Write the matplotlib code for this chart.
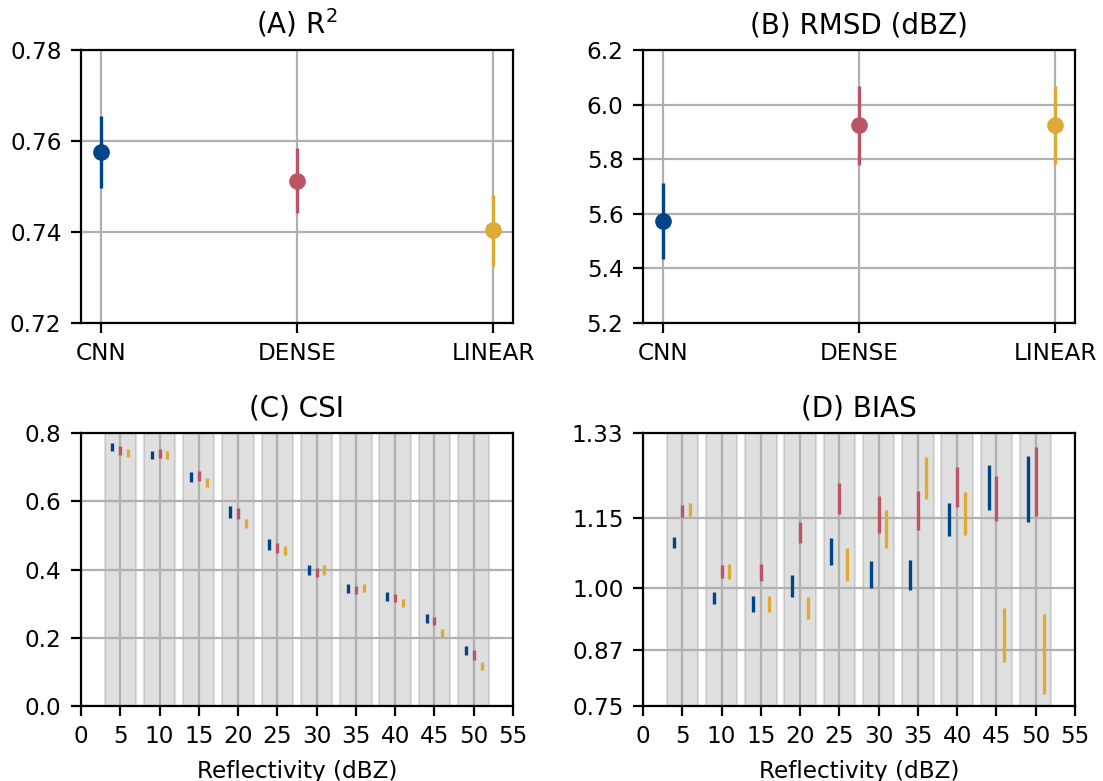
import matplotlib
matplotlib.use("Agg")
import matplotlib.pyplot as plt
import numpy as np

# ---------------- data ----------------
models = ["CNN", "DENSE", "LINEAR"]
colors = ["#004488", "#BB5566", "#DDAA33"]

r2_mean = [0.7576, 0.7513, 0.7404]
r2_err = [0.0080, 0.0071, 0.0078]

rmsd_mean = [5.574, 5.924, 5.926]
rmsd_err = [0.138, 0.145, 0.143]

refl_bins = [5, 10, 15, 20, 25, 30, 35, 40, 45, 50]

csi_cnn = [0.758, 0.736, 0.671, 0.569, 0.473, 0.398, 0.345, 0.322, 0.256, 0.163]
csi_dense = [0.748, 0.740, 0.673, 0.565, 0.463, 0.392, 0.340, 0.316, 0.250, 0.150]
csi_linear = [0.742, 0.736, 0.655, 0.536, 0.455, 0.398, 0.346, 0.302, 0.214, 0.117]
csi_cnn_err = [0.012, 0.0125, 0.014, 0.017, 0.016, 0.014, 0.013, 0.0135, 0.013, 0.014]
csi_dense_err = [0.013, 0.0125, 0.0145, 0.0155, 0.0145, 0.0125, 0.012, 0.0125, 0.012, 0.014]
csi_linear_err = [0.012, 0.012, 0.0145, 0.013, 0.0135, 0.014, 0.0115, 0.0115, 0.012, 0.0125]

bias_cnn = [1.097, 0.979, 0.967, 1.005, 1.078, 1.030, 1.028, 1.146, 1.215, 1.211]
bias_dense = [1.164, 1.036, 1.034, 1.119, 1.191, 1.157, 1.165, 1.215, 1.191, 1.227]
bias_linear = [1.168, 1.036, 0.967, 0.958, 1.051, 1.126, 1.234, 1.159, 0.900, 0.860]
bias_cnn_err = [0.012, 0.013, 0.0175, 0.023, 0.0285, 0.029, 0.0315, 0.0345, 0.0475, 0.0705]
bias_dense_err = [0.013, 0.014, 0.018, 0.023, 0.033, 0.0395, 0.042, 0.042, 0.0485, 0.073]
bias_linear_err = [0.014, 0.016, 0.0175, 0.023, 0.0345, 0.041, 0.045, 0.046, 0.0575, 0.085]

bias_ticks = [0.75, 0.87, 1.00, 1.15, 1.33]

# ---------------- figure ----------------
plt.rcParams["font.family"] = ["DejaVu Sans"]
plt.rcParams["font.size"] = 8.33

fig, axes = plt.subplots(2, 2, figsize=(5.515, 3.905), dpi=200)
fig.subplots_adjust(left=0.0734, right=0.9746, bottom=0.096, top=0.936,
                    wspace=0.301, hspace=0.403)

title_fs = 10
label_fs = 8.33

def top_panel(ax, means, errs, title, ylim, yticks, fmt):
    x = np.arange(len(models))
    for i in range(len(models)):
        ax.errorbar(x[i], means[i], yerr=errs[i], fmt="o", color=colors[i],
                    markersize=5, elinewidth=1.2, capsize=0, zorder=3)
    ax.set_xticks(x)
    ax.set_xticklabels(models)
    ax.set_ylim(*ylim)
    ax.set_yticks(yticks)
    ax.set_yticklabels([fmt.format(v) for v in yticks])
    ax.grid(True)
    ax.set_title(title, fontsize=title_fs)

top_panel(axes[0, 0], r2_mean, r2_err, "(A) R$^2$", (0.72, 0.78),
          [0.72, 0.74, 0.76, 0.78], "{:.2f}")
top_panel(axes[0, 1], rmsd_mean, rmsd_err, "(B) RMSD (dBZ)", (5.2, 6.2),
          [5.2, 5.4, 5.6, 5.8, 6.0, 6.2], "{:.1f}")

def bottom_panel(ax, series, errs, title):
    bins = np.array(refl_bins)
    for c in bins:
        ax.axvspan(c - 2, c + 2, color="gray", alpha=0.25, lw=0.8, zorder=1)
    offsets = [-1, 0, 1]
    for vals, err, col, off in zip(series, errs, colors, offsets):
        ax.errorbar(bins + off, vals, yerr=err, fmt="none", ecolor=col,
                    elinewidth=1.2, capsize=0, zorder=3)
    ax.set_xlim(0, 55)
    ax.set_xticks(np.arange(0, 56, 5))
    ax.grid(True)
    ax.set_xlabel("Reflectivity (dBZ)", fontsize=label_fs)
    ax.set_title(title, fontsize=title_fs)

axc = axes[1, 0]
bottom_panel(axc, [csi_cnn, csi_dense, csi_linear],
             [csi_cnn_err, csi_dense_err, csi_linear_err], "(C) CSI")
axc.set_ylim(0, 0.8)
axc.set_yticks([0.0, 0.2, 0.4, 0.6, 0.8])
axc.set_yticklabels(["0.0", "0.2", "0.4", "0.6", "0.8"])

axd = axes[1, 1]
bottom_panel(axd, [bias_cnn, bias_dense, bias_linear],
             [bias_cnn_err, bias_dense_err, bias_linear_err], "(D) BIAS")
axd.set_ylim(0.75, 1.33)
axd.set_yticks(bias_ticks)
axd.set_yticklabels(["{:.2f}".format(v) for v in bias_ticks])

fig.savefig("out.png", dpi=200)
